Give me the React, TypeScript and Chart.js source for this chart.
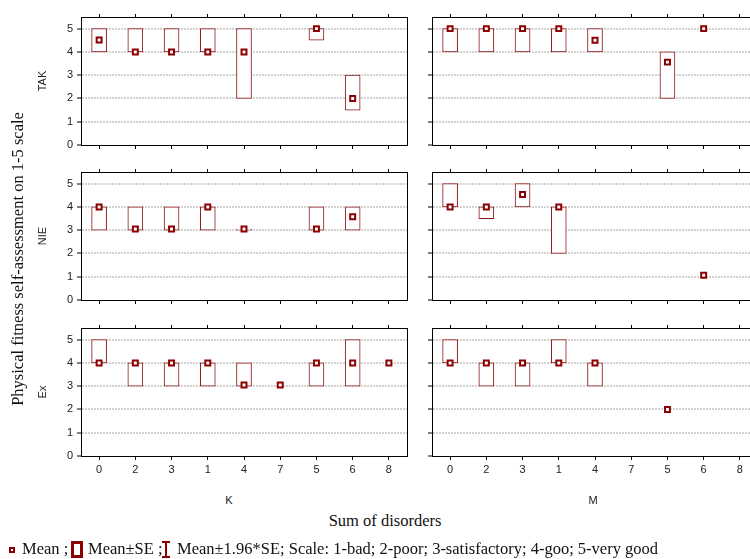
import React, { useEffect, useRef } from 'react';
import { Chart, registerables } from 'chart.js';
Chart.register(...registerables);

const categories = ['0', '2', '3', '1', '4', '7', '5', '6', '8'];
const yTicks = [0, 1, 2, 3, 4, 5];
const rowLabels = ['TAK', 'NIE', 'Ex'];
const colLabels = ['K', 'M'];

// TAK / K
const takKLow = [4, 4, 4, 4, 2, null, 4.5, 1.5, null];
const takKHigh = [5, 5, 5, 5, 5, null, 5, 3, null];
const takKMean = [4.51, 4, 4, 4, 4, null, 5, 2, null];
// TAK / M
const takMLow = [4, 4, 4, 4, 4, null, 2, null, null];
const takMHigh = [5, 5, 5, 5, 5, null, 4, null, null];
const takMMean = [5, 5, 5, 5, 4.5, null, 3.56, 5, null];
// NIE / K
const nieKLow = [3, 3, 3, 3, 3, null, 3, 3, null];
const nieKHigh = [4, 4, 4, 4, 3, null, 4, 4, null];
const nieKMean = [4, 3.05, 3.05, 4, 3.05, null, 3.05, 3.58, null];
// NIE / M
const nieMLow = [4, 3.5, 4, 2, null, null, null, null, null];
const nieMHigh = [5, 4, 5, 4, null, null, null, null, null];
const nieMMean = [4, 4, 4.53, 4, null, null, null, 1.06, null];
// Ex / K
const exKLow = [4, 3, 3, 3, 3, null, 3, 3, null];
const exKHigh = [5, 4, 4, 4, 4, null, 4, 5, null];
const exKMean = [4, 4, 4, 4, 3.05, 3.05, 4, 4, 4];
// Ex / M
const exMLow = [4, 3, 3, 4, 3, null, null, null, null];
const exMHigh = [5, 4, 4, 5, 4, null, null, null, null];
const exMMean = [4, 4, 4, 4, 4, null, 2, null, null];

const DARK = '#8b0000';
const BOX = '#8e1515';
const SANS = '"Liberation Sans", Arial, sans-serif';
const SERIF = '"Liberation Serif", "Times New Roman", serif';

const PLOT_W = 326;
const PLOT_H = 128;
const AX_L = 40;
const AX_T = 14;
const AX_R = 8;
const AX_B = 22;

type PanelProps = {
  left: number;
  top: number;
  low: (number | null)[];
  high: (number | null)[];
  mean: (number | null)[];
  showX: boolean;
  showY: boolean;
};

function Panel({ left, top, low, high, mean, showX, showY }: PanelProps) {
  const ref = useRef<HTMLCanvasElement>(null);
  useEffect(() => {
    const tickFont = { family: SANS, size: 11 };
    const chart = new Chart(ref.current as HTMLCanvasElement, {
      type: 'bar',
      data: {
        labels: categories,
        datasets: [
          {
            type: 'line',
            data: mean as any,
            showLine: false,
            pointStyle: 'rect',
            pointRadius: 3.5,
            pointBorderWidth: 2,
            pointBackgroundColor: '#ffffff',
            pointBorderColor: DARK,
            order: 0,
            xAxisID: 'x',
            yAxisID: 'y',
          } as any,
          {
            type: 'bar',
            data: low.map((l, i) => (l == null || high[i] == null ? null : [l, high[i]])) as any,
            backgroundColor: '#ffffff',
            borderColor: BOX,
            borderWidth: 1,
            borderSkipped: false,
            barThickness: 15,
            minBarLength: 1,
            order: 1,
            xAxisID: 'x',
            yAxisID: 'y',
          } as any,
        ],
      },
      options: {
        responsive: false,
        animation: false,
        events: [],
        layout: { padding: 0 },
        plugins: { legend: { display: false }, tooltip: { enabled: false } },
        scales: {
          x: {
            type: 'category',
            position: 'bottom',
            offset: true,
            grid: { offset: false, drawOnChartArea: false, tickLength: 4, tickColor: '#000' },
            border: { color: '#000', width: 1 },
            ticks: { display: showX, font: tickFont, color: '#222', padding: 3, maxRotation: 0, autoSkip: false },
            afterFit: (s: any) => { s.height = AX_B; },
          },
          xTop: {
            type: 'category',
            position: 'top',
            offset: true,
            grid: { offset: false, drawOnChartArea: false, tickLength: 3, tickColor: '#000' },
            border: { color: '#000', width: 1 },
            ticks: { display: false },
            afterFit: (s: any) => { s.height = AX_T; },
          },
          y: {
            type: 'linear',
            position: 'left',
            min: 0,
            max: 5.5,
            afterBuildTicks: (s: any) => { s.ticks = yTicks.map((v) => ({ value: v })); },
            grid: {
              color: (ctx: any) => (ctx.tick && ctx.tick.value === 0 ? 'rgba(0,0,0,0)' : '#d2d2d2'),
              lineWidth: 2,
              tickLength: 4,
              tickWidth: 1,
              tickColor: '#000',
              tickBorderDash: [],
            },
            border: { color: '#000', width: 1, dash: [2, 1] },
            ticks: { display: showY, font: tickFont, color: '#222', padding: 4 },
            afterFit: (s: any) => { s.width = AX_L; },
          },
          yRight: {
            type: 'linear',
            position: 'right',
            min: 0,
            max: 5.5,
            grid: { drawOnChartArea: false, drawTicks: false },
            border: { color: '#000', width: 1 },
            ticks: { display: false },
            afterFit: (s: any) => { s.width = AX_R; },
          },
        },
      } as any,
    });
    return () => chart.destroy();
  }, []);
  const w = AX_L + PLOT_W + AX_R;
  const h = AX_T + PLOT_H + AX_B;
  return (
    <canvas
      ref={ref}
      width={w}
      height={h}
      style={{ position: 'absolute', left: left - AX_L, top: top - AX_T, width: w, height: h }}
    />
  );
}

const colLeft = [81, 432];
const rowTop = [17, 172, 328];

const panels = [
  [takKLow, takKHigh, takKMean, takMLow, takMHigh, takMMean],
  [nieKLow, nieKHigh, nieKMean, nieMLow, nieMHigh, nieMMean],
  [exKLow, exKHigh, exKMean, exMLow, exMHigh, exMMean],
];

const rot: React.CSSProperties = {
  position: 'absolute',
  transform: 'translate(-50%, -50%) rotate(-90deg)',
  whiteSpace: 'nowrap',
  lineHeight: 'normal',
};

const legendText: React.CSSProperties = {
  position: 'absolute',
  top: 541,
  fontFamily: SERIF,
  fontSize: 16.5,
  lineHeight: '16px',
  whiteSpace: 'nowrap',
  color: '#111',
};

export default function App() {
  return (
    <div style={{ position: 'absolute', left: 0, top: 0, width: 750, height: 559, overflow: 'hidden', background: '#fff' }}>
      {panels.map((p, r) => (
        <React.Fragment key={r}>
          <Panel left={colLeft[0]} top={rowTop[r]} low={p[0]} high={p[1]} mean={p[2]} showX={r === 2} showY={true} />
          <Panel left={colLeft[1]} top={rowTop[r]} low={p[3]} high={p[4]} mean={p[5]} showX={r === 2} showY={false} />
        </React.Fragment>
      ))}
      {rowLabels.map((t, r) => (
        <div key={t} style={{ ...rot, left: 42, top: rowTop[r] + PLOT_H / 2, fontFamily: SANS, fontSize: 11, color: '#222' }}>{t}</div>
      ))}
      <div style={{ ...rot, left: 18, top: 259, fontFamily: SERIF, fontSize: 16.5, color: '#111' }}>
        Physical fitness self-assessment on 1-5 scale
      </div>
      <div style={{ position: 'absolute', left: 229, top: 500, transform: 'translate(-50%, -50%)', fontFamily: SANS, fontSize: 11, color: '#222' }}>{colLabels[0]}</div>
      <div style={{ position: 'absolute', left: 593, top: 500, transform: 'translate(-50%, -50%)', fontFamily: SANS, fontSize: 11, color: '#222' }}>{colLabels[1]}</div>
      <div style={{ position: 'absolute', left: 385, top: 521, transform: 'translate(-50%, -50%)', fontFamily: SERIF, fontSize: 16.5, color: '#111', whiteSpace: 'nowrap' }}>
        Sum of disorders
      </div>
      {/* legend */}
      <div style={{ position: 'absolute', left: 9, top: 547, width: 6, height: 6, boxSizing: 'border-box', border: `2px solid ${DARK}`, background: '#fff' }} />
      <div style={{ ...legendText, left: 22 }}>Mean ;</div>
      <div style={{ position: 'absolute', left: 71, top: 541, width: 12, height: 17, boxSizing: 'border-box', border: `3px solid ${DARK}`, background: '#fff' }} />
      <div style={{ ...legendText, left: 88 }}>Mean±SE ;</div>
      <div style={{ position: 'absolute', left: 162, top: 541, width: 8, height: 2, background: DARK }} />
      <div style={{ position: 'absolute', left: 165, top: 541, width: 2, height: 17, background: DARK }} />
      <div style={{ position: 'absolute', left: 162, top: 556, width: 8, height: 2, background: DARK }} />
      <div style={{ ...legendText, left: 177 }}>
        Mean±1.96*SE; Scale: 1-bad; 2-poor; 3-satisfactory; 4-goo; 5-very good
      </div>
    </div>
  );
}
